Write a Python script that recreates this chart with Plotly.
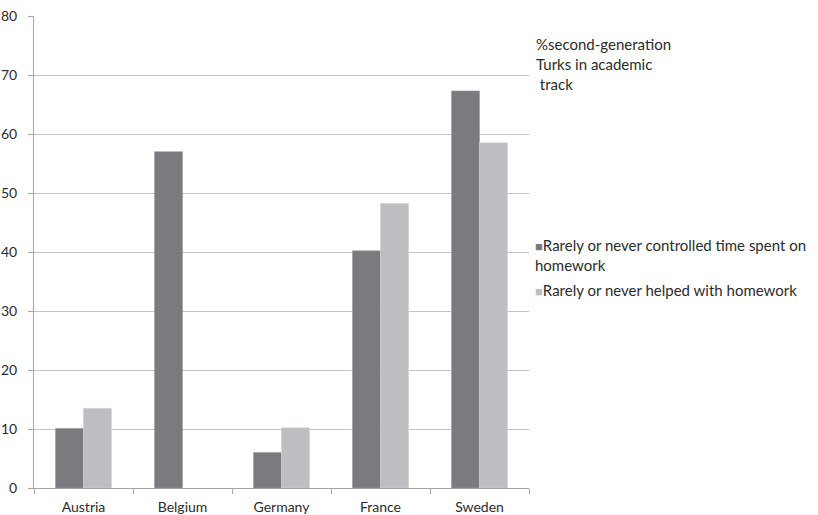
import plotly.graph_objects as go

countries = ["Austria", "Belgium", "Germany", "France", "Sweden"]
controlled_time = [10.1, 57.0, 6.0, 40.2, 67.3]
helped_homework = [13.5, None, 10.2, 48.2, 58.5]
y_ticks = [0, 10, 20, 30, 40, 50, 60, 70, 80]

series_names = [
    "Rarely or never controlled time spent on<br>homework",
    "Rarely or never helped with homework",
]
note_lines = ["%second-generation", "Turks in academic", " track"]

dark = "#7b7b7f"
light = "#bdbec2"
font_family = "Lato, Open Sans, sans-serif"
text_color = "#2b2b2b"
fs = 14
side_fs = 15

fig = go.Figure()
fig.add_trace(go.Bar(
    x=countries, y=controlled_time, name=series_names[0],
    marker=dict(color=dark, line=dict(color="#9a9a9e", width=0.6)),
))
fig.add_trace(go.Bar(
    x=countries, y=helped_homework, name=series_names[1],
    marker=dict(color=light, line=dict(color="#d4d4d7", width=0.6)),
))

fig.update_layout(
    width=818, height=515,
    margin=dict(l=34, r=289, t=16, b=27),
    paper_bgcolor="white", plot_bgcolor="white",
    barmode="group", bargap=0.434, bargroupgap=0,
    showlegend=False,
    font=dict(family=font_family, size=fs, color=text_color),
)
fig.update_xaxes(
    automargin=False,
    showline=True, linecolor="#a6a6a6", linewidth=1,
    ticks="outside", tickson="boundaries", ticklen=5, tickcolor="#a6a6a6",
    showgrid=False, tickfont=dict(size=fs), ticklabelstandoff=6,
)
fig.update_yaxes(
    automargin=False,
    range=[0, 80], tickvals=y_ticks,
    showline=True, linecolor="#a6a6a6", linewidth=1,
    ticks="outside", ticklen=5, tickcolor="#a6a6a6",
    showgrid=True, gridcolor="#c4c4c4", gridwidth=1,
    zeroline=False, tickfont=dict(size=fs), ticklabelstandoff=8,
)

# side note, one line per annotation for wider line spacing
for i, line in enumerate(note_lines):
    fig.add_annotation(
        xref="paper", yref="paper", x=1.01, y=0.965 - i * 20 / 472,
        xanchor="left", yanchor="top", text=line,
        showarrow=False, align="left", font=dict(size=side_fs, color=text_color),
    )

# hand-made legend entries to the right of the plot
legend_y = [0.538, 0.443]
for name, color, yy in zip(series_names, [dark, light], legend_y):
    fig.add_annotation(
        xref="paper", yref="paper", x=1.008, y=yy, xanchor="left", yanchor="top",
        text=f"<span style='color:{color};font-size:13px'>■</span>" + name,
        showarrow=False, align="left", font=dict(size=side_fs, color=text_color),
    )

fig.write_html("out.html")
